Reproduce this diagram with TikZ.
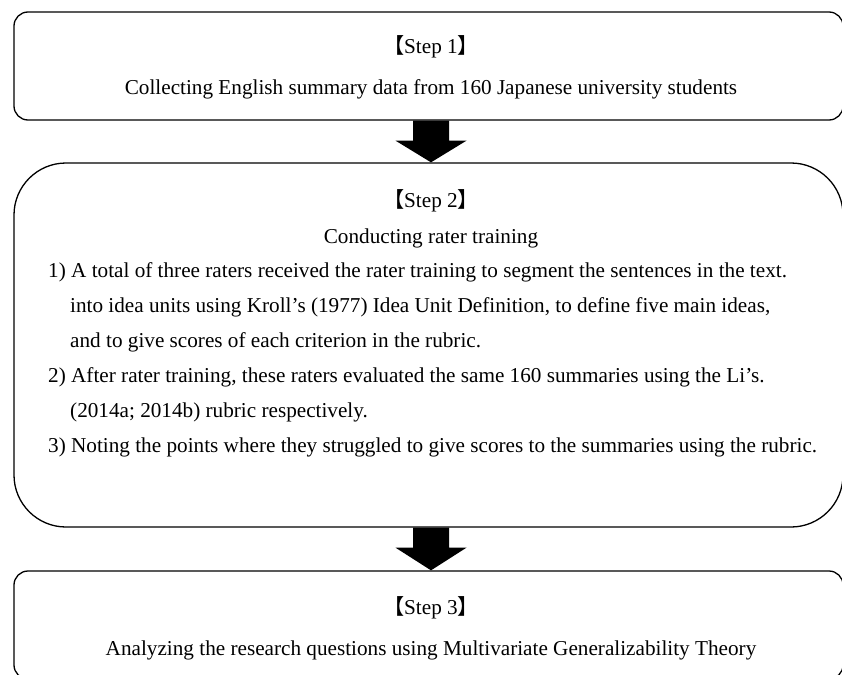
\documentclass[tikz,border=0pt]{standalone}
\usepackage{fontspec}
\setmainfont{Liberation Serif}
\newfontfamily\cjk{Noto Sans CJK JP}
\usetikzlibrary{calc}
\newcommand{\steplabel}[1]{{\cjk 【}Step #1{\cjk 】}}
\begin{document}
\begin{tikzpicture}[x=1pt,y=-1pt,
  every node/.style={font=\fontsize{21.2}{26}\selectfont,inner sep=0pt},
  stepbox/.style={draw,line width=1.3pt,minimum width=829pt},
  txt/.style={anchor=base},
  itm/.style={anchor=base west}]
\useasboundingbox (0,0) rectangle (842,674);
% boxes
\node[stepbox,rounded corners=14pt,minimum height=108pt] (s1) at (428.5,66) {};
\node[stepbox,rounded corners=52pt,minimum height=364pt] (s2) at (428.5,345) {};
\node[stepbox,rounded corners=14pt,minimum height=108pt] (s3) at (428.5,625) {};
\coordinate (mid) at (431,0);
% thick down arrows
\foreach \a/\b in {s1/s2,s2/s3}
  \fill ($(\a.south -| mid)+(-18,0)$) -- ($(\a.south -| mid)+(18,0)$)
    -- ($(\a.south -| mid)+(18,20)$) -- ($(\a.south -| mid)+(35.5,20)$)
    -- (\b.north -| mid) -- ($(\a.south -| mid)+(-35.5,20)$)
    -- ($(\a.south -| mid)+(-18,20)$) -- cycle;
% step 1
\node[txt] (h1) at (431,54) {\steplabel{1}};
\node[txt] (t1) at (431,95) {Collecting English summary data from 160 Japanese university students};
% step 2
\node[txt] (h2) at (431,207) {\steplabel{2}};
\node[txt] (t2) at (431,243) {Conducting rater training};
\node[itm] (i1a) at (48,277) {1) A total of three raters received the rater training to segment the sentences in the text.};
\node[itm] (i1b) at (70,312) {into idea units using Kroll’s (1977) Idea Unit Definition, to define five main ideas,};
\node[itm] (i1c) at (70,347) {and to give scores of each criterion in the rubric.};
\node[itm] (i2a) at (48,382) {2) After rater training, these raters evaluated the same 160 summaries using the Li’s.};
\node[itm] (i2b) at (70,417) {(2014a; 2014b) rubric respectively.};
\node[itm] (i3a) at (48,452) {3) Noting the points where they struggled to give scores to the summaries using the rubric.};
% step 3
\node[txt] (h3) at (431,614) {\steplabel{3}};
\node[txt] (t3) at (431,655) {Analyzing the research questions using Multivariate Generalizability Theory};
\end{tikzpicture}
\end{document}
